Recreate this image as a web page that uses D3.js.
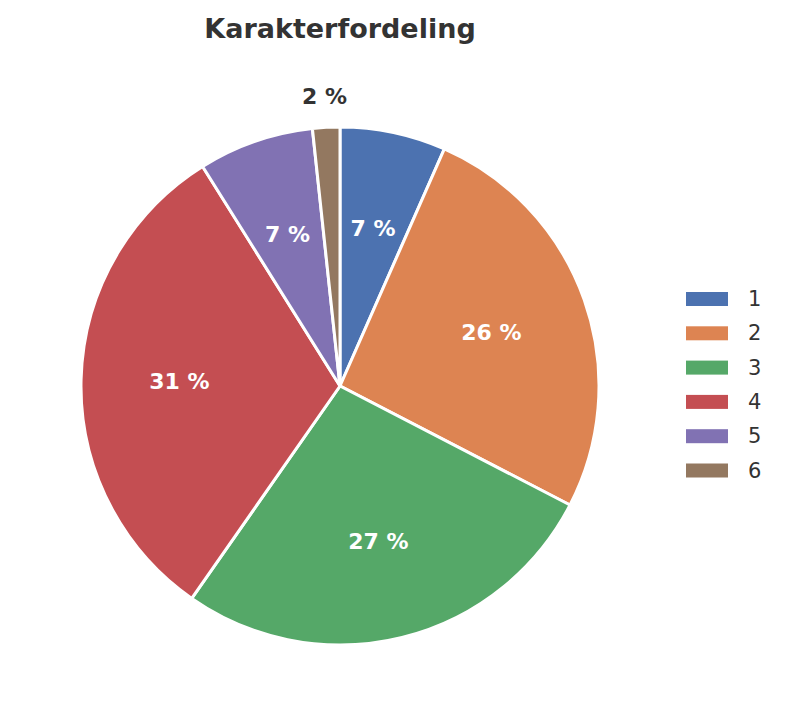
<!DOCTYPE html>
<html><head><meta charset="utf-8">
<script src="https://cdn.jsdelivr.net/npm/d3@7"></script>
<style>body{margin:0;background:#fff}</style></head>
<body><svg id="c" width="787" height="726"></svg>
<script>
const categories = ["1","2","3","4","5","6"];
const values = [6.6, 26.0, 27.1, 31.4, 7.2, 1.7];
const colors = ["#4C72B0","#DD8452","#55A868","#C44E52","#8172B3","#937860"];
const title = "Karakterfordeling";

const svg = d3.select("#c");
const cx = 340, cy = 386, r = 259;
const font = "DejaVu Sans, sans-serif";
svg.append("text").attr("x",340).attr("y",38).attr("text-anchor","middle")
  .attr("font-family",font).attr("font-weight","bold").attr("font-size",27).attr("fill","#333").text(title);
const total = d3.sum(values);
const pie = d3.pie().sort(null).value(d=>d)(values);
const arc = d3.arc().innerRadius(0).outerRadius(r);
const g = svg.append("g").attr("transform",`translate(${cx},${cy})`);
g.selectAll("path").data(pie).join("path").attr("d",arc)
  .attr("fill",(d,i)=>colors[i]).attr("stroke","#fff").attr("stroke-width",3);
g.selectAll("text").data(pie).join("text")
  .each(function(d,i){
    const a=(d.startAngle+d.endAngle)/2;
    const pct=d.value/total*100;
    const k = pct<3 ? 1.12 : 0.62;
    d3.select(this).attr("x",Math.sin(a)*r*k).attr("y",-Math.cos(a)*r*k)
      .attr("fill", pct<3 ? "#333" : "#fff").text(Math.round(pct)+" %");
  })
  .attr("text-anchor","middle").attr("dominant-baseline","central")
  .attr("font-family",font).attr("font-weight","bold").attr("font-size",22);
const lg = svg.append("g");
categories.forEach((c,i)=>{
  const y = 299 + i*34.3;
  lg.append("rect").attr("x",686).attr("y",y-7).attr("width",42).attr("height",14).attr("fill",colors[i]);
  lg.append("text").attr("x",748).attr("y",y).attr("dominant-baseline","central")
    .attr("font-family",font).attr("font-size",21).attr("fill","#333").text(c);
});
</script></body></html>
